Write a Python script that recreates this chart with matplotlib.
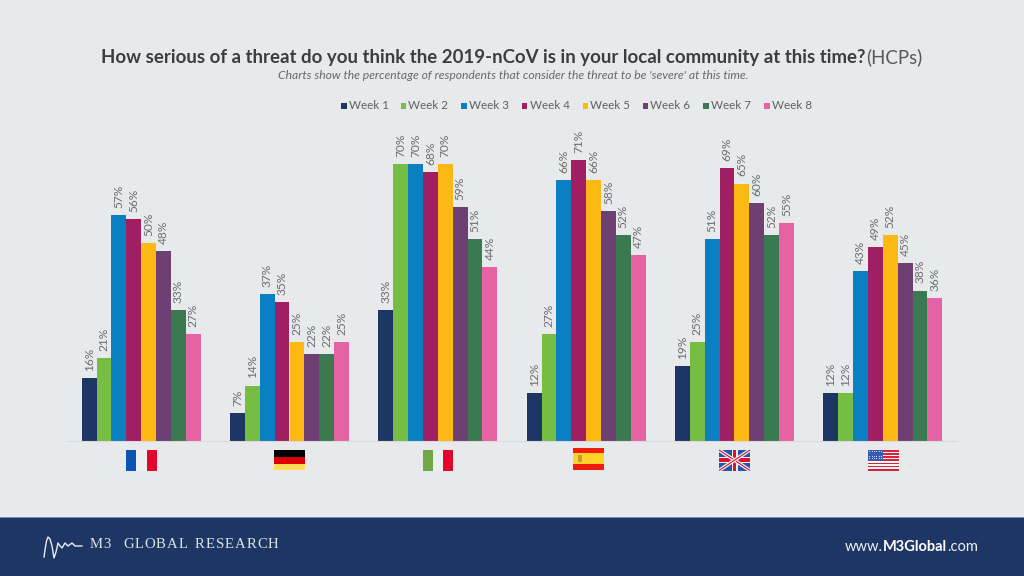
import numpy as np
import matplotlib
matplotlib.use("Agg")
import matplotlib.pyplot as plt
from matplotlib.patches import Rectangle

weeks = ["Week 1", "Week 2", "Week 3", "Week 4", "Week 5", "Week 6", "Week 7", "Week 8"]
week_colors = ["#1d3663", "#76bd43", "#0a7fc1", "#a01e62", "#fdb913", "#6d3f73", "#3b7a50", "#e563a4"]

france = [16, 21, 57, 56, 50, 48, 33, 27]
germany = [7, 14, 37, 35, 25, 22, 22, 25]
italy = [33, 70, 70, 68, 70, 59, 51, 44]
spain = [12, 27, 66, 71, 66, 58, 52, 47]
uk = [19, 25, 51, 69, 65, 60, 52, 55]
usa = [12, 12, 43, 49, 52, 45, 38, 36]
countries = [france, germany, italy, spain, uk, usa]

logo_x = [44, 45, 46.5, 48, 50, 52, 54, 56, 58, 60, 62, 65, 68, 72, 75, 78, 82]
logo_y = [557, 550, 541, 537, 539, 546, 558, 552, 543, 546, 548, 543, 546, 543, 546, 546, 546]

BG = "#e8e9eb"
NAVY = "#1d3663"
W, H = 1024, 576

plt.rcParams["font.family"] = ["Lato", "DejaVu Sans"]

fig = plt.figure(figsize=(W / 100, H / 100), dpi=100, facecolor=BG)

# overlay in pixel coordinates for the footer, flags and headings
over = fig.add_axes([0, 0, 1, 1])
over.set_xlim(0, W)
over.set_ylim(H, 0)
over.axis("off")

# bars
left, right, base, top = 67, 957, 441, 125
ax = fig.add_axes([left / W, 1 - base / H, (right - left) / W, (base - top) / H])
ax.patch.set_alpha(0)
ax.set_xlim(-0.5, 5.5)
ax.set_ylim(0, (base - top) / 3.96)
bar_w = 0.1002
for i, vals in enumerate(countries):
    xs = i + (np.arange(8) - 3.5) * bar_w
    ax.bar(xs, vals, bar_w, color=week_colors, linewidth=0)
    for x, v in zip(xs, vals):
        ax.text(x, v + 1.8, "%d%%" % v, rotation=90, ha="center", va="bottom",
                fontsize=8.6, color="#6a6c70")
for s in ["top", "left", "right"]:
    ax.spines[s].set_visible(False)
ax.spines["bottom"].set_color("#d9dadc")
ax.spines["bottom"].set_linewidth(0.8)
ax.set_xticks([])
ax.set_yticks([])

# headings
over.text(101, 57, "How serious of a threat do you think the 2019-nCoV is in your local community at this time?",
          fontsize=13.4, fontweight="bold", color="#3c3d40", va="center", ha="left")
over.text(922, 57, "(HCPs)", fontsize=13.4, color="#55575a", va="center", ha="right")
over.text(749, 75.5, "Charts show the percentage of respondents that consider the threat to be 'severe' at this time.",
          fontsize=8.77, style="italic", color="#66686b", va="center", ha="right")

# legend
legend_x = [341, 400.5, 461, 521.5, 582.5, 642.5, 703, 764]
for x, name, c in zip(legend_x, weeks, week_colors):
    over.add_patch(Rectangle((x, 103), 5.5, 5.5, color=c, lw=0))
    over.text(x + 8, 105.5, name, fontsize=8.4, color="#5f6164", va="center", ha="left")


def stripes_v(x, y, w, h, cols):
    for k, c in enumerate(cols):
        over.add_patch(Rectangle((x + k * w / 3, y), w / 3, h, color=c, lw=0))


def stripes_h(x, y, w, h, cols, fracs):
    pos = y
    for c, f in zip(cols, fracs):
        over.add_patch(Rectangle((x, pos), w, h * f, color=c, lw=0))
        pos += h * f


def tracked(x, y, s, size, gap, color):
    # matplotlib has no letter spacing, so place the letters one by one
    for ch in s:
        t = over.text(x, y, ch, family=["Liberation Serif"], fontsize=size, color=color, va="center", ha="left")
        x = over.transData.inverted().transform((t.get_window_extent().x1, 0))[0] + gap


# flags
stripes_v(126, 450, 31, 20.5, ["#0a55b4", "#eceef0", "#e2062c"])
stripes_h(274, 450, 31, 20.5, ["#000000", "#dd0000", "#ffdd55"], [1 / 3, 1 / 3, 1 / 3])
stripes_v(423, 450, 30, 20.5, ["#70a845", "#eceef0", "#e2062c"])
stripes_h(573, 448, 31, 21.5, ["#f01c0c", "#fdd426", "#f01c0c"], [0.25, 0.5, 0.25])
over.add_patch(Rectangle((577.5, 455), 4, 6.5, color="#c49a3a", lw=0))

# union flag
ux, uy, uw, uh = 719, 450, 31, 20.5
over.add_patch(Rectangle((ux, uy), uw, uh, color="#2456a8", lw=0))
for a, b in [((ux, uy), (ux + uw, uy + uh)), ((ux, uy + uh), (ux + uw, uy))]:
    over.plot([a[0], b[0]], [a[1], b[1]], color="#eceef0", lw=2.6, solid_capstyle="butt")
    over.plot([a[0], b[0]], [a[1], b[1]], color="#d8142f", lw=0.8, solid_capstyle="butt")
over.add_patch(Rectangle((ux + uw / 2 - 3, uy), 6, uh, color="#eceef0", lw=0))
over.add_patch(Rectangle((ux, uy + uh / 2 - 3), uw, 6, color="#eceef0", lw=0))
over.add_patch(Rectangle((ux + uw / 2 - 1.8, uy), 3.6, uh, color="#d8142f", lw=0))
over.add_patch(Rectangle((ux, uy + uh / 2 - 1.8), uw, 3.6, color="#d8142f", lw=0))

# stars and stripes
sx, sy, sw, sh = 868, 450, 31, 20.5
for k in range(7):
    over.add_patch(Rectangle((sx, sy + k * sh * 2 / 13), sw, sh / 13, color="#d8233a", lw=0))
    if k < 6:
        over.add_patch(Rectangle((sx, sy + (k * 2 + 1) * sh / 13), sw, sh / 13, color="#f4f4f6", lw=0))
over.add_patch(Rectangle((sx, sy), 15, 10.5, color="#3a5bb0", lw=0))
for row in range(4):
    for col in range(6):
        over.add_patch(Rectangle((sx + 1.2 + col * 2.4, sy + 1.2 + row * 2.4), 0.9, 0.9, color="#c9d3ec", lw=0))

# footer band
over.add_patch(Rectangle((0, 518), W, 58, color=NAVY, lw=0))
over.add_patch(Rectangle((0, 517.3), W, 1, color="#6f8bb5", lw=0))

over.plot(logo_x, logo_y, color="#e8ecf2", lw=1.0)
fig.canvas.draw()
tracked(90, 545, "M3", 10.6, 0.8, "#dfe3ea")
tracked(123, 545, "GLOBAL", 10.6, 0.9, "#dfe3ea")
tracked(195, 545, "RESEARCH", 10.6, 0.9, "#dfe3ea")

t1 = over.text(845, 547, "www.", fontsize=10.5, color="#eef0f4", va="center", ha="left")
end = over.transData.inverted().transform((t1.get_window_extent().x1, 0))[0]
t2 = over.text(end, 547, "M3Global", fontsize=10.5, fontweight="bold", color="#ffffff", va="center", ha="left")
end = over.transData.inverted().transform((t2.get_window_extent().x1, 0))[0]
over.text(end, 547, ".com", fontsize=10.5, color="#eef0f4", va="center", ha="left")

fig.savefig("out.png", dpi=100, facecolor=BG)
